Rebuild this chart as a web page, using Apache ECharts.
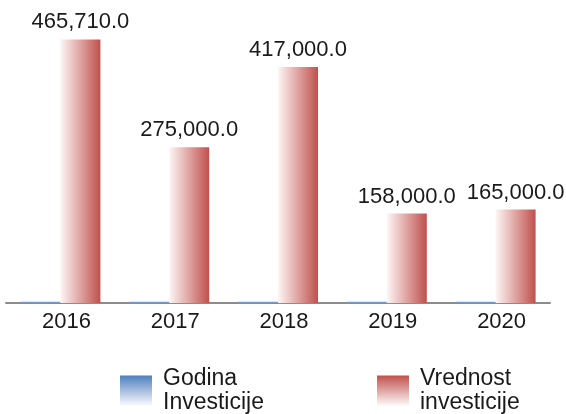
<!DOCTYPE html>
<html>
<head>
<meta charset="utf-8">
<script src="https://cdn.jsdelivr.net/npm/echarts@6/dist/echarts.min.js"></script>
<style>
  html, body { margin: 0; padding: 0; background: #fff; }
  #chart { width: 566px; height: 414px; }
</style>
</head>
<body>
<div id="chart"></div>
<script>
var years = ["2016", "2017", "2018", "2019", "2020"];
var godina = [2016, 2017, 2018, 2019, 2020];
var vrednost = [465710, 275000, 417000, 158000, 165000];

var chart = echarts.init(document.getElementById("chart"));
var font = "Liberation Sans, Arial, sans-serif";

function hGrad(c) {
  return new echarts.graphic.LinearGradient(0, 0, 1, 0, [
    { offset: 0, color: "#fdf6f5" },
    { offset: 1, color: c }
  ]);
}
function vGrad(c) {
  return new echarts.graphic.LinearGradient(0, 0, 0, 1, [
    { offset: 0, color: c },
    { offset: 1, color: "#ffffff" }
  ]);
}

var legendText = { fontSize: 23, color: "#1a1a1a", lineHeight: 24, padding: [0, 0, 0, 6] };

chart.setOption({
  animation: false,
  textStyle: { fontFamily: font },
  grid: { left: 6, right: 16, top: 20, bottom: 111 },
  legend: [
    {
      left: 115, top: 362, itemWidth: 32, itemHeight: 31, itemGap: 0, icon: "rect",
      textStyle: legendText,
      data: [{ name: "Godina\nInvesticije", itemStyle: { color: vGrad("#4f7fbf") } }]
    },
    {
      left: 372, top: 362, itemWidth: 32, itemHeight: 31, itemGap: 0, icon: "rect",
      textStyle: legendText,
      data: [{ name: "Vrednost\ninvesticije", itemStyle: { color: vGrad("#c0504d") } }]
    }
  ],
  xAxis: {
    type: "category",
    data: years,
    axisTick: { show: false },
    axisLine: { lineStyle: { color: "#8c8c8c", width: 2 } },
    axisLabel: { fontSize: 22, color: "#1a1a1a", margin: 8, padding: [0, 0, 0, 12] }
  },
  yAxis: {
    type: "value",
    min: 0,
    max: 500000,
    show: false,
    splitLine: { show: false }
  },
  series: [
    {
      name: "Godina\nInvesticije",
      type: "bar",
      barWidth: 40,
      barGap: "0%",
      data: godina,
      itemStyle: { color: "#739bd0" }
    },
    {
      name: "Vrednost\ninvesticije",
      type: "bar",
      barWidth: 40,
      barGap: "0%",
      data: vrednost,
      itemStyle: { color: hGrad("#c0504d") },
      label: {
        show: true,
        position: "top",
        distance: 6,
        fontSize: 22,
        color: "#1a1a1a",
        formatter: function (p) {
          return p.value.toLocaleString("en-US", { minimumFractionDigits: 1, maximumFractionDigits: 1 });
        }
      }
    }
  ]
});
</script>
</body>
</html>
